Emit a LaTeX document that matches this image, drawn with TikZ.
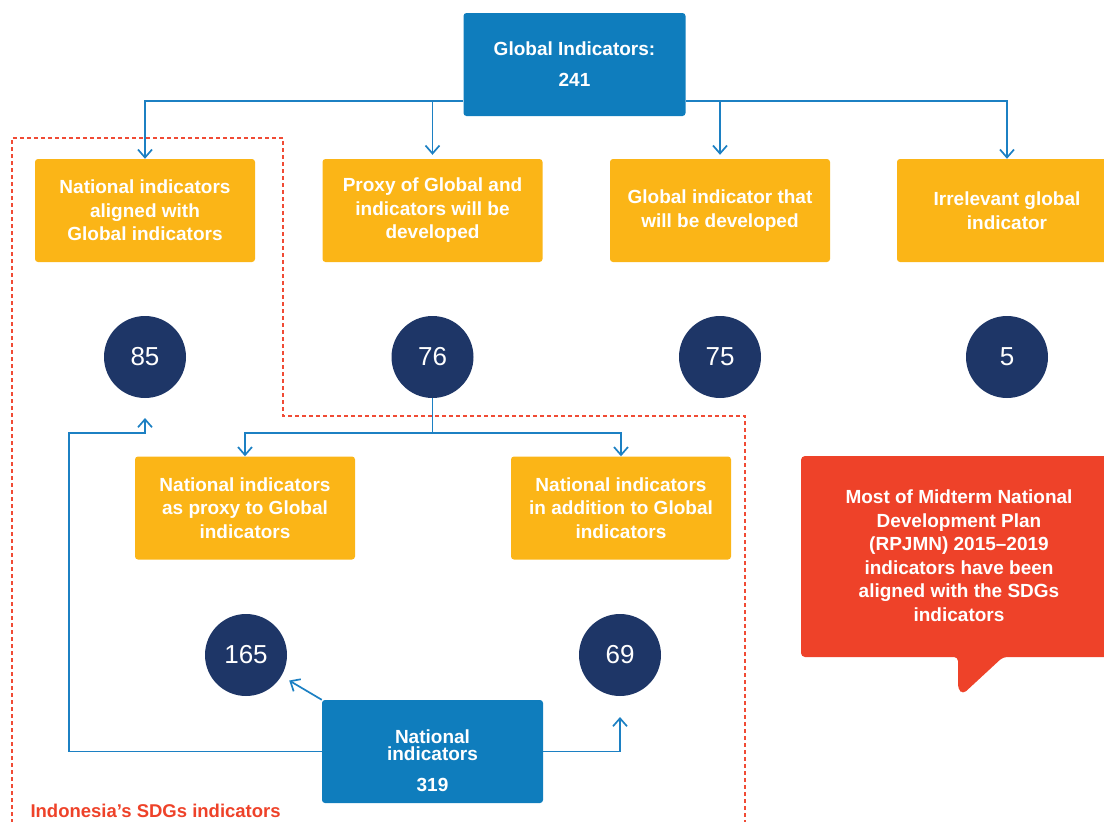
\documentclass[tikz,border=0pt]{standalone}
\usepackage{fontspec}
\setmainfont{Liberation Sans}
\usetikzlibrary{arrows.meta,calc}
\definecolor{gblue}{HTML}{0F7DBD}
\definecolor{lblue}{HTML}{1C80C3}
\definecolor{gyellow}{HTML}{FBB517}
\definecolor{navy}{HTML}{1E3667}
\definecolor{cred}{HTML}{EE4229}
\definecolor{dred}{HTML}{F04B35}
\tikzset{
  x=1pt, y=-1pt,
  btxt/.style={font=\bfseries\fontsize{19}{23.5}\selectfont, text=white, align=center},
  ybox/.style={btxt, fill=gyellow, rounded corners=3pt, minimum width=220pt, minimum height=103pt, inner sep=0pt},
  bbox/.style={fill=gblue, rounded corners=3pt, minimum width=222pt, minimum height=103pt, inner sep=0pt},
  num/.style={circle, fill=navy, minimum size=82pt, inner sep=0pt, text=white, font=\fontsize{26}{29}\selectfont},
  conn/.style={draw=lblue, line width=1.7pt},
  arr/.style={conn, -{Straight Barb[length=8pt,width=14pt,line width=1.7pt]}},
  dline/.style={draw=dred, line width=1.5pt, dash pattern=on 4pt off 3pt},
}
\begin{document}
\begin{tikzpicture}
\useasboundingbox (0,0) rectangle (1104,822);
\clip (0,0) rectangle (1104,822);
% dashed region
\draw[dline] (12,830) -- (12,138) -- (283,138) -- (283,416) -- (745,416) -- (745,830);
\node[font=\bfseries\fontsize{18.5}{22}\selectfont, text=cred, anchor=west] (sdg) at (27,811) {Indonesia’s SDGs indicators};

% global box
\node[bbox] (g) at (574.5,64.5) {};
\node[btxt] (gt) at (574.5,64.5) {Global Indicators:\\[7.5pt]241};

% yellow boxes row 1
\node[ybox] (y1) at (145,210.5) {National indicators\\aligned with\\Global indicators};
\node[ybox] (y2) at (432.5,210.5) {Proxy of Global and\\indicators will be\\developed};
\node[ybox] (y3) at (720,210.5) {Global indicator that\\will be developed};
\node[ybox] (y4) at (1007,210.5) {Irrelevant global\\indicator};

% circles row 1
\node[num] (c85) at (145,357) {85};
\node[num] (c76) at (432.5,357) {76};
\node[num] (c75) at (720,357) {75};
\node[num] (c5) at (1007,357) {5};

% connectors from global box
\coordinate (gl) at (463,101);
\coordinate (gr) at (686,101);
\draw[arr] (gl) -| (y1.north);
\draw[arr] (gr) -| (y4.north);
\draw[arr, shorten >=4pt] (y2.north |- gl) -- (y2.north);
\draw[arr, shorten >=4pt] (y3.north |- gr) -- (y3.north);

% yellow boxes row 2
\node[ybox] (y5) at (245,508) {National indicators\\as proxy to Global\\indicators};
\node[ybox] (y6) at (621,508) {National indicators\\in addition to Global\\indicators};

\coordinate (split) at (432.5,433);
\draw[conn] (c76.south) -- (split);
\draw[arr] (split) -| (y5.north);
\draw[arr] (split) -| (y6.north);

% circles row 2
\node[num] (c165) at (246,655) {165};
\node[num] (c69) at (620,655) {69};

% national box
\node[bbox, minimum width=221pt] (nat) at (432.5,751.5) {};
\node[btxt] (natt) at (432.5,761) {National\\[-6.5pt]indicators\\[7.5pt]319};

\draw[arr, shorten >=9pt] (nat.north west) -- (c165);
\coordinate (lc) at (69,433);
\coordinate (t85) at (145,418);
\draw[arr] (nat.west) -| (lc) -| (t85);
\coordinate (t69) at (620,717);
\draw[arr] (nat.east) -| (t69);

% callout
\fill[cred, rounded corners=4pt] (801,456) -- (1125,456) -- (1125,657) -- (1003,657)
  -- (963,694) -- (958,689) -- (958,657) -- (801,657) -- cycle;
\node[btxt] (call) at (959,555.5) {Most of Midterm National\\Development Plan\\(RPJMN) 2015–2019\\indicators have been\\aligned with the SDGs\\indicators};
\end{tikzpicture}
\end{document}
